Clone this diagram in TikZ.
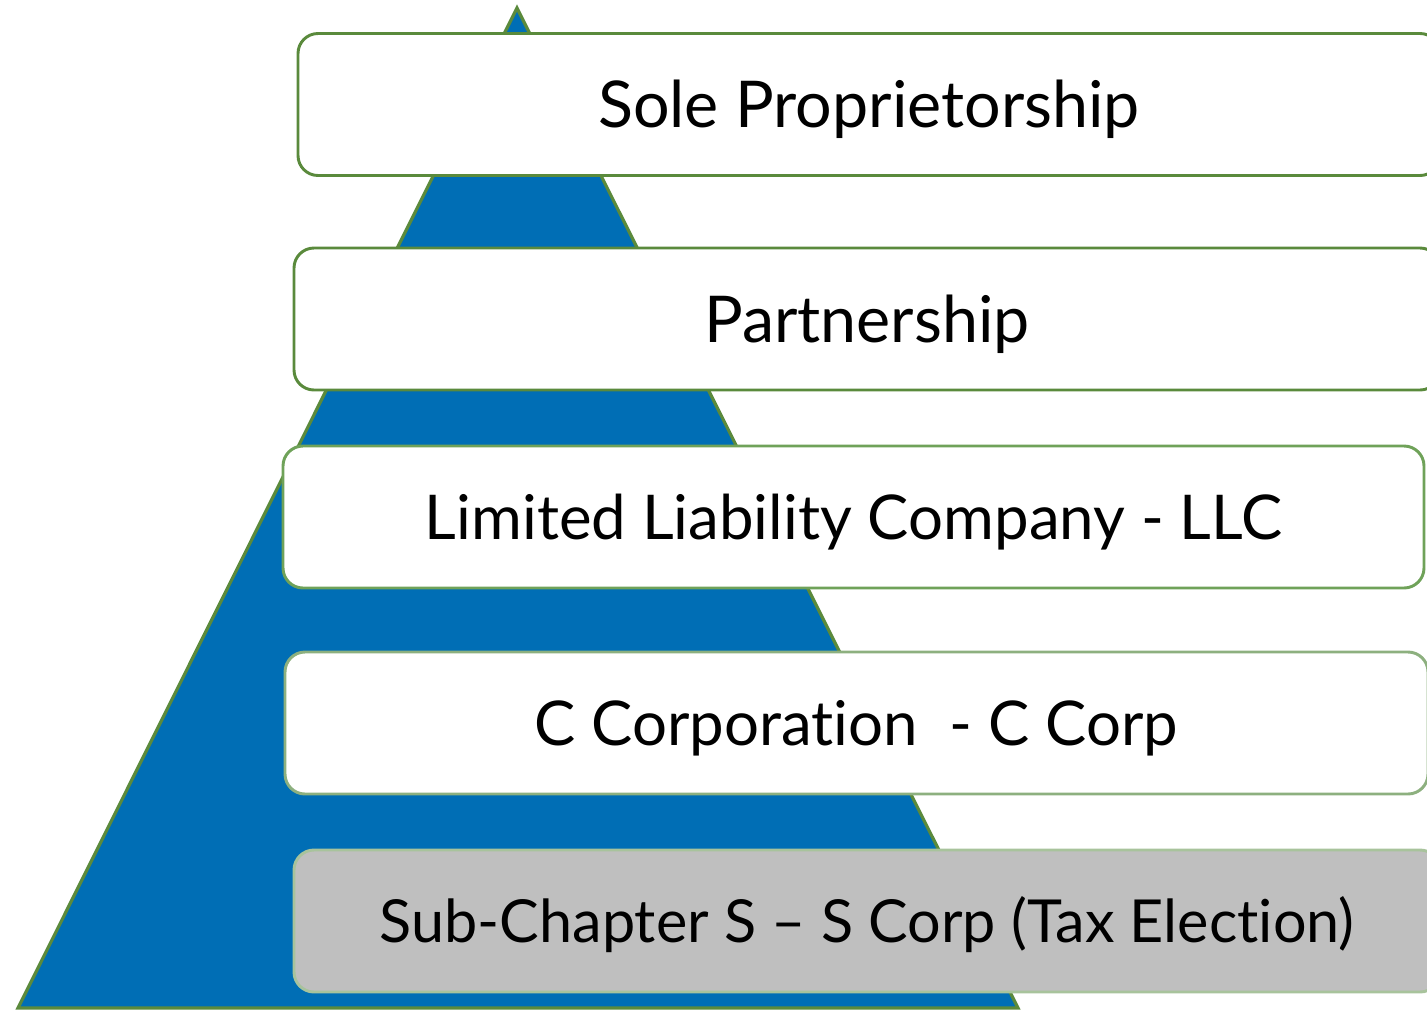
\documentclass[tikz,border=0pt]{standalone}
\usepackage{fontspec}
\setmainfont{Lato}[Ligatures=NoCommon]
\usepackage{tikz}
\definecolor{pyrblue}{HTML}{006EB5}
\definecolor{pyrgreen}{HTML}{5B8A3C}
\definecolor{tierA}{HTML}{5A8A3C}
\definecolor{tierB}{HTML}{6FA259}
\definecolor{tierC}{HTML}{8DB07F}
\definecolor{tierD}{HTML}{A8C39C}
\definecolor{tiergray}{HTML}{BFBFBF}
\tikzstyle{tier}=[rectangle,rounded corners=15pt,fill=white,line width=2.2pt,inner sep=0pt,minimum height=106.5pt,text depth=0pt]
\tikzstyle{big}=[font=\fontsize{48.4}{50}\selectfont,text height=34.7pt]
\tikzstyle{mid}=[font=\fontsize{46.3}{50}\selectfont,text height=33.2pt]
\tikzstyle{small}=[font=\fontsize{44.5}{50}\selectfont,text height=31.9pt]
\tikzstyle{pyramid}=[fill=pyrblue,draw=pyrgreen,line width=2.4pt,line join=miter]

\begin{document}
\begin{tikzpicture}[x=0.75pt,y=-0.75pt]
	\useasboundingbox (0,0) rectangle (1427,1010);
	\clip (0,0) rectangle (1427,1010);
	\coordinate (top) at (517,8);
	\coordinate (baseL) at (18,1008);
	\coordinate (baseR) at (1018,1008);
	\draw [style=pyramid] (top) -- (baseR) -- (baseL) -- cycle;
		\node [style=tier, style=big, draw=tierA, minimum width=856.5pt] (sole) at (869,104.5) {Sole Proprietorship};
		\node [style=tier, style=big, draw=tierA, minimum width=859.5pt] (part) at (867,319) {Partnership};
		\node [style=tier, style=mid, draw=tierB, minimum width=855.75pt] (llc) at (853.5,517) {Limited Liability Company - LLC};
		\node [style=tier, style=mid, draw=tierC, minimum width=857.25pt] (ccorp) at (856.5,723) {C Corporation \ - C Corp};
		\node [style=tier, style=small, draw=tierD, fill=tiergray, minimum width=859.5pt] (scorp) at (867,921) {Sub-Chapter S -- S Corp (Tax Election)};
\end{tikzpicture}
\end{document}
